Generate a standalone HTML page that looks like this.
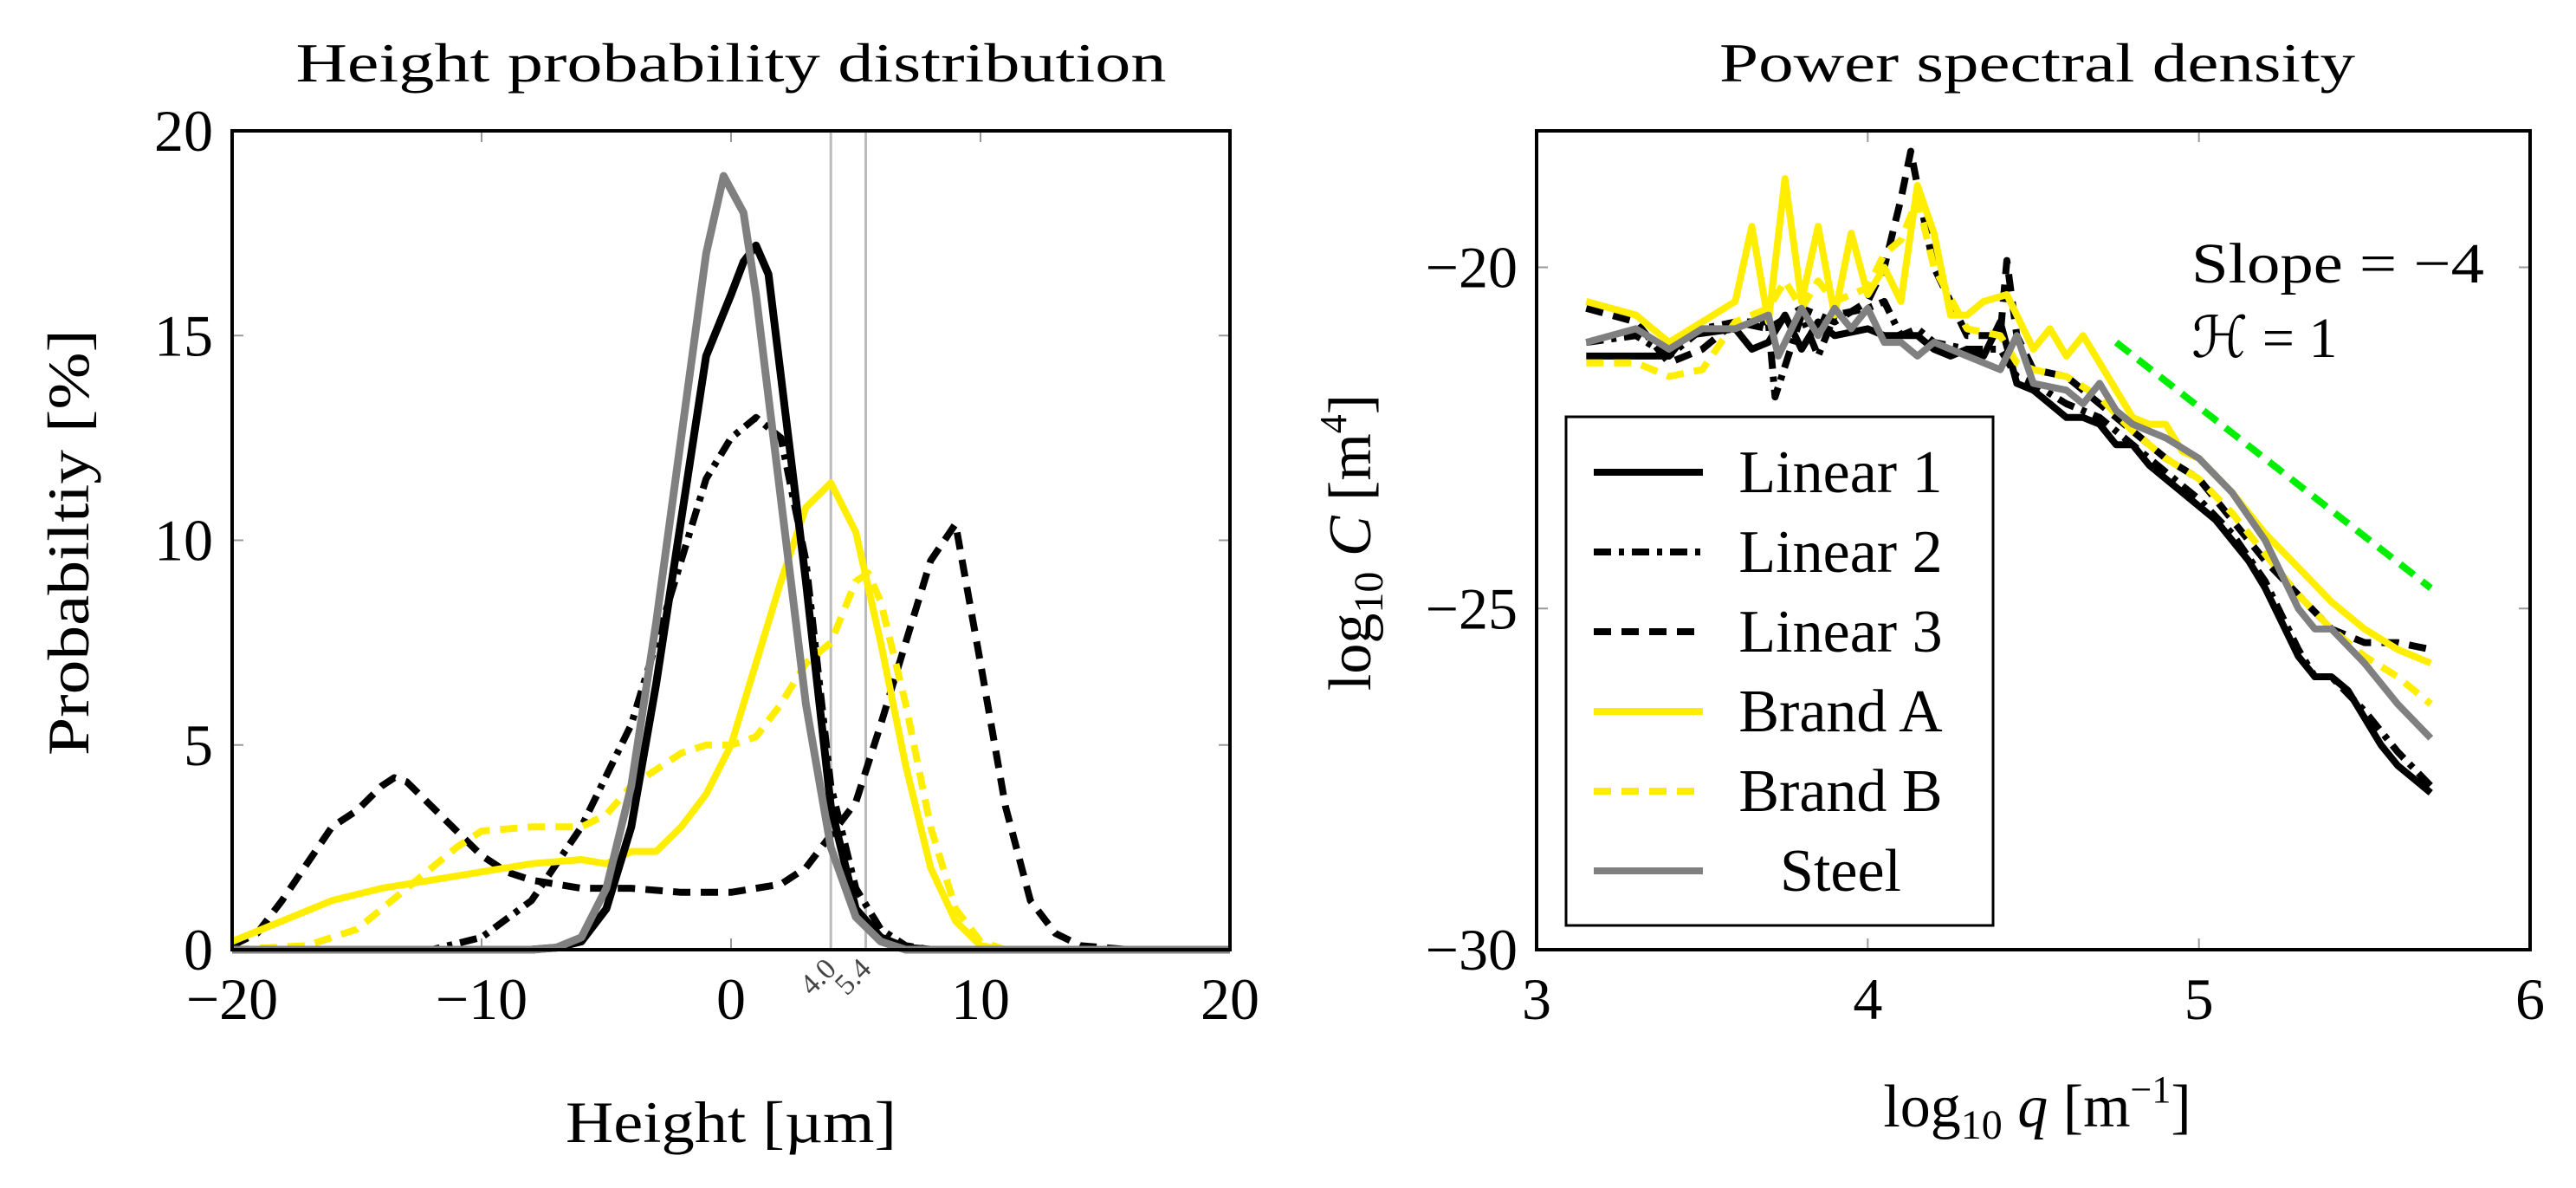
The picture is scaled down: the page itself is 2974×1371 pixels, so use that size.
<!DOCTYPE html>
<html><head><meta charset="utf-8"><style>
html,body{margin:0;padding:0;background:#fff;}
svg{display:block;font-family:"Liberation Serif",serif;}
</style></head><body>
<svg id="chart" width="2974" height="1371" viewBox="0 0 2974 1371" xmlns="http://www.w3.org/2000/svg">
<rect width="2974" height="1371" fill="#fff"/>
</svg>
<script>
// ---- Left chart data ----
const l1x=[-20,-8,-7,-6,-5,-4,-3,-2,-1,0,0.5,1,1.5,2,3,4,5,6,7,8,20];
const l1y=[0,0,0.05,0.2,1,3,6.5,10.5,14.5,16,16.8,17.2,16.5,14,9,3.5,1,0.3,0.05,0,0];
const l2x=[-20,-12,-10,-8,-6,-4,-3,-2,-1,0,1,2,2.5,3,4,5,6,7,8,20];
const l2y=[0,0,0.3,1.2,3,5.5,7.5,9.5,11.5,12.5,13,12.5,11,9.5,4,1.5,0.5,0.1,0,0];
const l3x=[-20,-19,-18,-17,-16,-15,-14,-13.5,-13,-12,-11,-10,-9,-8,-6,-4,-2,0,2,3,4,5,6,7,8,9,10,11,12,13,14,16,20];
const l3y=[0.1,0.4,1.2,2.1,3.0,3.4,4.0,4.2,4.1,3.5,2.9,2.3,1.9,1.7,1.5,1.5,1.4,1.4,1.6,2,2.8,3.6,5.5,7.5,9.5,10.4,7,3.5,1.2,0.4,0.1,0,0];
const bax=[-20,-18,-16,-14,-12,-10,-8,-6,-5,-4,-3,-2,-1,0,1,2,3,4,5,6,7,8,9,10,11,20];
const bay=[0.2,0.7,1.2,1.5,1.7,1.9,2.1,2.2,2.1,2.4,2.4,3,3.8,5,7,9,10.8,11.4,10.2,7.5,4.5,2,0.7,0.1,0,0];
const bbx=[-20,-17,-15,-13,-11,-10,-8,-6,-5,-4,-2,-1,0,1,2,3,4,5,5.5,6,7,8,9,10,11,20];
const bby=[0,0.1,0.5,1.5,2.5,2.9,3,3,3.3,4,4.8,5,5,5.2,6,7,7.5,9,9.2,8.5,6,3,1,0.2,0,0];
const stx=[-20,-8,-7,-6,-5,-4,-3,-2,-1,-0.3,0.5,1,2,3,4,5,6,7,20];
const sty=[0,0,0.05,0.3,1.5,4,8,12.5,17,18.9,18,16,11,6,2.5,0.8,0.2,0,0];
const lxTicks=[-20,-10,0,10,20];
const lyTicks=[0,5,10,15,20];
const vlines=[4.0,5.4];
// ---- Right chart data ----
const r1x=[3.15,3.4,3.45,3.6,3.65,3.7,3.75,3.8,3.85,3.9,4.0,4.05,4.1,4.15,4.2,4.25,4.3,4.35,4.4,4.45,4.5,4.55,4.6,4.65,4.7,4.75,4.8,4.85,4.9,4.95,5.0,5.05,5.1,5.15,5.2,5.25,5.3,5.35,5.4,5.45,5.5,5.55,5.6,5.7];
const r1y=[-21.3,-21.3,-21.0,-20.9,-21.2,-21.1,-20.7,-21.2,-20.8,-21.0,-20.9,-21.0,-21.0,-21.0,-21.2,-21.3,-21.2,-21.3,-20.8,-21.7,-21.8,-22.0,-22.2,-22.2,-22.3,-22.6,-22.6,-22.9,-23.1,-23.3,-23.5,-23.7,-24.0,-24.3,-24.7,-25.2,-25.7,-26.0,-26.0,-26.2,-26.6,-27.0,-27.3,-27.7];
const r2x=[3.15,3.3,3.4,3.5,3.6,3.7,3.72,3.8,3.85,3.9,4.0,4.05,4.1,4.15,4.2,4.3,4.4,4.45,4.5,4.6,4.7,4.8,4.9,5.0,5.1,5.2,5.3,5.35,5.4,5.5,5.6,5.7];
const r2y=[-21.1,-21.0,-21.3,-20.9,-20.8,-20.8,-21.9,-20.7,-21.3,-20.7,-20.6,-20.5,-21.0,-20.9,-21.1,-21.2,-21.2,-21.6,-21.7,-22.0,-22.2,-22.6,-23.0,-23.4,-23.9,-24.6,-25.6,-26.0,-26.0,-26.5,-27.1,-27.6];
const r3x=[3.15,3.3,3.4,3.5,3.6,3.7,3.8,3.9,4.0,4.05,4.1,4.13,4.17,4.2,4.25,4.3,4.4,4.42,4.45,4.5,4.6,4.7,4.8,4.9,5.0,5.1,5.2,5.3,5.4,5.5,5.6,5.7];
const r3y=[-20.6,-20.8,-21.4,-21.2,-20.8,-20.9,-20.6,-20.8,-20.5,-20.0,-19.0,-18.3,-19.3,-20.0,-20.5,-21.0,-21.0,-19.9,-21.0,-21.5,-21.6,-22.0,-22.4,-22.8,-23.1,-23.7,-24.3,-24.8,-25.3,-25.5,-25.5,-25.6];
const bAx=[3.15,3.3,3.4,3.5,3.6,3.65,3.7,3.75,3.8,3.85,3.9,3.95,4.0,4.05,4.1,4.15,4.2,4.25,4.3,4.35,4.42,4.5,4.55,4.6,4.65,4.7,4.75,4.8,4.85,4.9,4.95,5.0,5.1,5.2,5.3,5.4,5.5,5.6,5.7];
const bAy=[-20.5,-20.7,-21.1,-20.8,-20.5,-19.4,-20.8,-18.7,-20.5,-19.4,-20.7,-19.5,-20.4,-20.0,-20.5,-18.8,-19.5,-20.7,-20.7,-20.5,-20.4,-21.2,-20.9,-21.3,-21.0,-21.4,-21.8,-22.2,-22.3,-22.3,-22.7,-22.8,-23.3,-23.9,-24.4,-24.9,-25.3,-25.6,-25.8];
const bBx=[3.15,3.3,3.4,3.5,3.6,3.7,3.75,3.8,3.85,3.9,4.0,4.05,4.1,4.15,4.2,4.3,4.4,4.45,4.5,4.6,4.7,4.8,4.9,5.0,5.1,5.2,5.3,5.4,5.5,5.6,5.7];
const bBy=[-21.4,-21.4,-21.6,-21.5,-20.8,-20.6,-20.2,-20.6,-20.2,-20.5,-20.3,-19.8,-19.6,-19.0,-20.0,-20.9,-21.0,-21.4,-21.5,-21.6,-21.9,-22.4,-22.8,-23.1,-23.6,-24.2,-24.8,-25.3,-25.7,-26.0,-26.4];
const sRx=[3.15,3.3,3.4,3.5,3.6,3.7,3.73,3.8,3.85,3.9,3.95,4.0,4.05,4.1,4.15,4.2,4.3,4.4,4.45,4.5,4.6,4.65,4.7,4.75,4.8,4.9,5.0,5.1,5.2,5.3,5.35,5.4,5.5,5.6,5.7];
const sRy=[-21.1,-20.9,-21.2,-20.9,-20.9,-20.7,-21.3,-20.6,-21.0,-20.6,-20.9,-20.6,-21.1,-21.1,-21.3,-21.1,-21.3,-21.5,-21.0,-21.7,-21.8,-22.0,-21.7,-22.1,-22.3,-22.5,-22.8,-23.3,-24.0,-25.0,-25.3,-25.3,-25.8,-26.4,-26.9];
const slopeX=[4.75,5.7];
const slopeY=[-21.1,-24.7];
const rxTicks=[3,4,5,6];
const ryTicks=[-20,-25,-30];

const NS='http://www.w3.org/2000/svg';
const svg=document.getElementById('chart');
function mk(tag,attrs,parent){const e=document.createElementNS(NS,tag);for(const k in attrs)e.setAttribute(k,attrs[k]);(parent||svg).appendChild(e);return e;}
function txt(s,attrs){const e=mk('text',attrs);e.textContent=s;return e;}
const fmt=v=>String(v).replace('-','\u2212');

const L={x0:268,x1:1420,y0:151,y1:1096,xmin:-20,xmax:20,ymin:0,ymax:20};
const lx=v=>L.x0+(v-L.xmin)/(L.xmax-L.xmin)*(L.x1-L.x0);
const ly=v=>L.y1-(v-L.ymin)/(L.ymax-L.ymin)*(L.y1-L.y0);
const R={x0:1774,x1:2921,y0:151,y1:1096,xmin:3,xmax:6,ymin:-30,ymax:-18};
const rx=v=>R.x0+(v-R.xmin)/(R.xmax-R.xmin)*(R.x1-R.x0);
const ry=v=>R.y1-(v-R.ymin)/(R.ymax-R.ymin)*(R.y1-R.y0);

const FS=68;
function ticks(A,fx,fy,xt,yt){
  xt.forEach(v=>{const x=fx(v);
    let t=mk('line',{x1:x,x2:x,y1:A.y1,y2:A.y1-13,stroke:'#999','stroke-width':2});
    
    t=mk('line',{x1:x,x2:x,y1:A.y0,y2:A.y0+13,stroke:'#999','stroke-width':2});
    
    const l=txt(fmt(v),{x:x,y:A.y1+80,'font-size':FS,'text-anchor':'middle'});
    });
  yt.forEach(v=>{const y=fy(v);
    let t=mk('line',{x1:A.x0,x2:A.x0+13,y1:y,y2:y,stroke:'#999','stroke-width':2});
    
    t=mk('line',{x1:A.x1,x2:A.x1-13,y1:y,y2:y,stroke:'#999','stroke-width':2});
    
    const l=txt(fmt(v),{x:A.x0-22,y:y+23,'font-size':FS,'text-anchor':'end'});
    });
}
function series(xs,ys,fx,fy,color,dash,name,w){
  const d=xs.map((v,i)=>(i?'L':'M')+fx(v).toFixed(1)+' '+fy(ys[i]).toFixed(1)).join(' ');
  const p=mk('path',{d:d,fill:'none',stroke:color,'stroke-width':w||8,'stroke-dasharray':dash||'none','stroke-linejoin':'round'});
  
  
}
const DASH='20 12', DD='20 9 6 9';

ticks(L,lx,ly,lxTicks,lyTicks);
vlines.forEach(v=>{
  const ln=mk('line',{x1:lx(v),x2:lx(v),y1:L.y0,y2:L.y1,stroke:'#bbb','stroke-width':3});
  
  const t=txt(v.toFixed(1),{x:lx(v)+8,y:L.y1+24,'font-size':34,'text-anchor':'end',fill:'#444',transform:`rotate(-45 ${lx(v)+8} ${L.y1+24})`});
  
});
series(l3x,l3y,lx,ly,'#000',DASH,'linear-3-line');
series(l2x,l2y,lx,ly,'#000',DD,'linear-2-line');
series(bbx,bby,lx,ly,'#ffee00',DASH,'brand-b-line');
series(bax,bay,lx,ly,'#ffee00',null,'brand-a-line');
series(l1x,l1y,lx,ly,'#000',null,'linear-1-line',9);
series(stx,sty,lx,ly,'#808080',null,'steel-line',9);
let box=mk('rect',{x:L.x0,y:L.y0,width:L.x1-L.x0,height:L.y1-L.y0,fill:'none',stroke:'#000','stroke-width':4});

const TA={'lengthAdjust':'spacingAndGlyphs'};
let t=txt('Height probability distribution',Object.assign({x:844,y:94,'font-size':64,'text-anchor':'middle',textLength:1005},TA));

t=txt('Height [µm]',Object.assign({x:844,y:1318,'font-size':68,'text-anchor':'middle',textLength:382},TA));

t=txt('Probabiltiy [%]',Object.assign({x:0,y:0,'font-size':68,'text-anchor':'middle',textLength:492,transform:'translate(102 626) rotate(-90)'},TA));


ticks(R,rx,ry,rxTicks,ryTicks);
series(r2x,r2y,rx,ry,'#000',DD,'linear-2-psd');
series(r3x,r3y,rx,ry,'#000',DASH,'linear-3-psd');
series(r1x,r1y,rx,ry,'#000',null,'linear-1-psd');
series(bBx,bBy,rx,ry,'#ffee00',DASH,'brand-b-psd');
series(bAx,bAy,rx,ry,'#ffee00',null,'brand-a-psd');
series(sRx,sRy,rx,ry,'#808080',null,'steel-psd');
series(slopeX,slopeY,rx,ry,'#00ee00',DASH,'slope-reference-line');
box=mk('rect',{x:R.x0,y:R.y0,width:R.x1-R.x0,height:R.y1-R.y0,fill:'none',stroke:'#000','stroke-width':4});

t=txt('Power spectral density',Object.assign({x:2352,y:94,'font-size':64,'text-anchor':'middle',textLength:734},TA));

t=txt('Slope = \u22124',Object.assign({x:2530,y:326,'font-size':66,textLength:338},TA));

t=txt('\u210B = 1',{x:2530,y:412,'font-size':66});

t=mk('text',{x:2352,y:1300,'font-size':70,'text-anchor':'middle'});
t.innerHTML='log<tspan font-size="48" dy="14">10</tspan><tspan dy="-14" font-style="italic"> q</tspan> [m<tspan font-size="44" dy="-28">−1</tspan><tspan dy="28">]</tspan>';

t=mk('text',{x:0,y:0,'font-size':70,'text-anchor':'middle',transform:'translate(1582 626) rotate(-90)'});
t.innerHTML='log<tspan font-size="48" dy="14">10</tspan><tspan dy="-14" font-style="italic"> C</tspan> [m<tspan font-size="44" dy="-28">4</tspan><tspan dy="28">]</tspan>';


const legNames=['Linear 1','Linear 2','Linear 3','Brand A','Brand B','Steel'];
const legColors=['#000','#000','#000','#ffee00','#ffee00','#808080'];
const legDash=[null,DD,DASH,null,DASH,null];
const lg=mk('rect',{x:1808,y:481,width:493,height:587,fill:'#fff',stroke:'#000','stroke-width':3});

legNames.forEach((n,i)=>{
  const y=545+i*92;
  const s=mk('line',{x1:1840,x2:1966,y1:y,y2:y,stroke:legColors[i],'stroke-width':8,'stroke-dasharray':legDash[i]||'none'});
  
  const e=txt(n,{x:2125,y:y+23,'font-size':70,'text-anchor':'middle'});
  
});
</script>
</body></html>
